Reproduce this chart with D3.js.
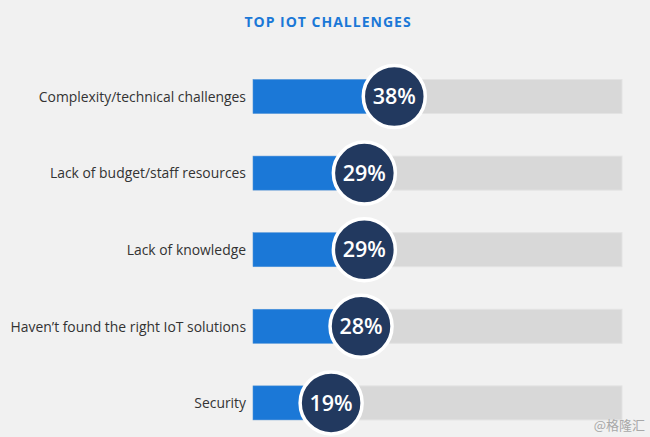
<!DOCTYPE html>
<html>
<head>
<meta charset="utf-8">
<script src="https://cdn.jsdelivr.net/npm/d3@7"></script>
<style>
html,body{margin:0;padding:0;background:#f1f1f1;}
svg{display:block;}
</style>
</head>
<body>
<svg id="chart" width="650" height="437"></svg>
<script>
const title = "TOP IOT CHALLENGES";
const categories = [
  "Complexity/technical challenges",
  "Lack of budget/staff resources",
  "Lack of knowledge",
  "Haven\u2019t found the right IoT solutions",
  "Security"
];
const values = [38, 29, 29, 28, 19];
const valueLabels = ["38%", "29%", "29%", "28%", "19%"];
const watermark = "@格隆汇";

const W = 650, H = 437;
const svg = d3.select("#chart");
svg.append("rect").attr("width", W).attr("height", H).attr("fill", "#f1f1f1");

const x = d3.scaleLinear().domain([-4.5, 106.5]).range([253, 622]);
const y = d3.scalePoint().domain(categories).range([58.2, 441.2]).padding(0.5);
const barH = 34;
const font = "'Open Sans', 'Noto Sans', sans-serif";

svg.append("text")
  .attr("x", 328).attr("y", 27)
  .attr("text-anchor", "middle")
  .attr("font-family", font)
  .attr("font-weight", 700)
  .attr("font-size", 14)
  .attr("letter-spacing", 1)
  .attr("fill", "#1b78d7")
  .text(title);

const rows = svg.append("g").selectAll("g")
  .data(categories.map((c, i) => ({c, v: values[i], l: valueLabels[i]})))
  .join("g");

rows.append("rect")
  .attr("x", x.range()[0])
  .attr("y", d => y(d.c) - barH / 2)
  .attr("width", x.range()[1] - x.range()[0])
  .attr("height", barH)
  .attr("fill", "#d8d8d8")
  .attr("stroke", "#e3e3e3")
  .attr("stroke-width", 1);

rows.append("rect")
  .attr("x", x.range()[0])
  .attr("y", d => y(d.c) - barH / 2)
  .attr("width", d => x(d.v) - x.range()[0])
  .attr("height", barH)
  .attr("fill", "#1b78d7")
  .attr("stroke", "#4a93dd")
  .attr("stroke-width", 0.5);

rows.append("circle")
  .attr("cx", d => x(d.v))
  .attr("cy", d => y(d.c))
  .attr("r", 31)
  .attr("fill", "#22395f")
  .attr("stroke", "#ffffff")
  .attr("stroke-width", 3.5);

rows.append("text")
  .attr("x", d => x(d.v))
  .attr("y", d => y(d.c))
  .attr("dy", "0.36em")
  .attr("text-anchor", "middle")
  .attr("font-family", font)
  .attr("font-weight", 600)
  .attr("font-size", 21.5)
  .attr("fill", "#ffffff")
  .text(d => d.l);

rows.append("text")
  .attr("x", 246)
  .attr("y", d => y(d.c))
  .attr("dy", "0.38em")
  .attr("text-anchor", "end")
  .attr("font-family", font)
  .attr("font-size", 13.9)
  .attr("fill", "#333333")
  .text(d => d.c);

svg.append("text")
  .attr("x", 645).attr("y", 430)
  .attr("text-anchor", "end")
  .attr("font-family", "'Noto Sans CJK SC', sans-serif")
  .attr("font-size", 13)
  .attr("fill", "#a8a8a8")
  .text(watermark);
</script>
</body>
</html>
